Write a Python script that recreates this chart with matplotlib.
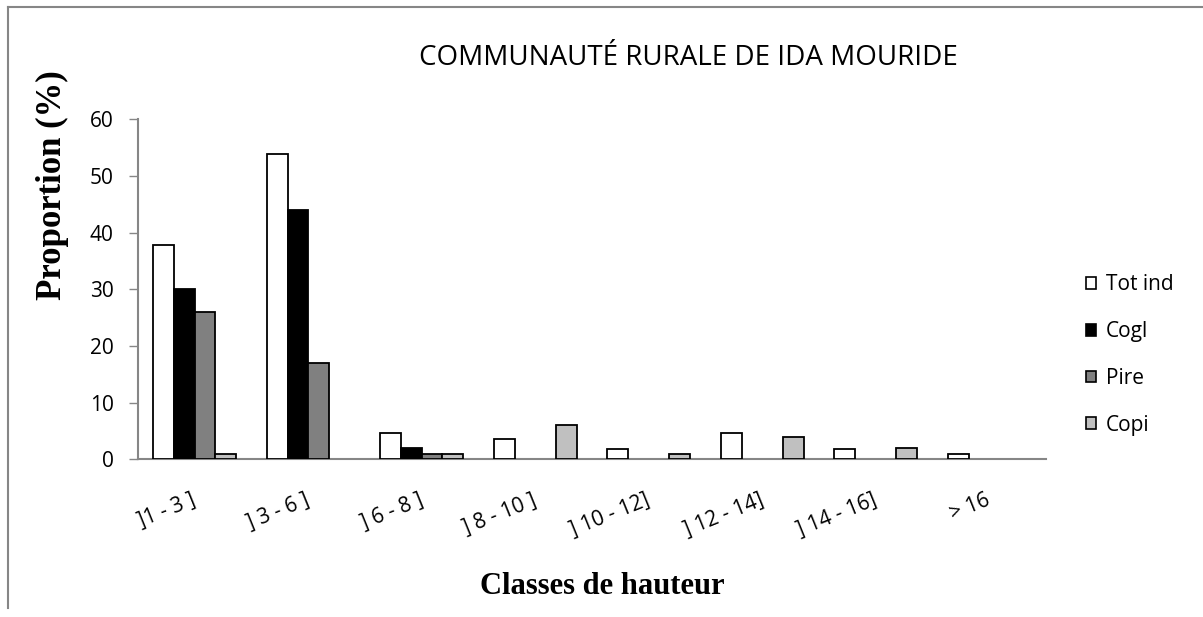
import numpy as np
import matplotlib
matplotlib.use("Agg")
import matplotlib.pyplot as plt
from matplotlib.lines import Line2D
from matplotlib.patches import Patch

# height classes and share of individuals (%) per species
classes = ["]1 - 3 ]", "] 3 - 6 ]", "] 6 - 8 ]", "] 8 - 10 ]",
           "] 10 - 12]", "] 12 - 14]", "] 14 - 16]", "> 16"]
tot_ind = [37.8, 53.8, 4.6, 3.6, 1.9, 4.6, 1.9, 0.9]
cogl = [30, 44, 2, 0, 0, 0, 0, 0]
pire = [26, 17, 1, 0, 0, 0, 0, 0]
copi = [1, 0, 1, 6, 1, 4, 2, 0]

series = [("Tot ind", tot_ind, "white"),
          ("Cogl", cogl, "black"),
          ("Pire", pire, "#808080"),
          ("Copi", copi, "#c0c0c0")]

SANS = "Open Sans"
SERIF = "Liberation Serif"
GREY = "#868686"

fig = plt.figure(figsize=(12.03, 6.17), dpi=100)
ax = fig.add_axes([0.1147, 0.2556, 0.7548, 0.551])

x = np.arange(len(classes))
w = 1 / 5.5
for i, (name, vals, col) in enumerate(series):
    bars = ax.bar(x - 1.5 * w + i * w, vals, width=w, color=col,
                  edgecolor="black", linewidth=1.3, label=name, zorder=3)
    for b in bars:
        if b.get_height() == 0:
            b.set_linewidth(0)

ax.set_xlim(-0.5, len(classes) - 0.5)
ax.set_ylim(0, 60)
ax.set_yticks(range(0, 61, 10))
ax.tick_params(axis="y", length=6.5, width=1, color=GREY, labelsize=15, pad=11)
ax.tick_params(axis="x", length=0)
for lab in ax.get_yticklabels():
    lab.set_fontfamily(SANS)

ax.set_xticks(x)
ax.set_xticklabels([])
for xi, txt in zip(x, classes):
    ax.annotate(txt, xy=(xi, 0), xycoords=("data", "axes fraction"),
                xytext=(3, -36), textcoords="offset points",
                ha="right", va="bottom", rotation=22, rotation_mode="anchor",
                fontsize=15, family=SANS)

for s in ["top", "right"]:
    ax.spines[s].set_visible(False)
for s in ["left", "bottom"]:
    ax.spines[s].set_color(GREY)
    ax.spines[s].set_linewidth(1.5)

fig.text(688 / 1203, 1 - 58 / 617, "COMMUNAUTÉ RURALE DE IDA MOURIDE",
         ha="center", va="center", fontsize=20, family=SANS)
fig.text(52 / 1203, 1 - 185 / 617, "Proportion (%)", rotation=90,
         ha="center", va="center", fontsize=25, fontweight="bold", family=SERIF)
fig.text(602 / 1203, 1 - 587 / 617, "Classes de hauteur",
         ha="center", va="center", fontsize=22, fontweight="bold", family=SERIF)

handles = [Patch(facecolor=c, edgecolor="black", linewidth=1.2, label=n)
           for n, _, c in series]
fig.legend(handles=handles, loc="center left",
           bbox_to_anchor=(1067 / 1203, 1 - 355 / 617), frameon=False,
           prop={"family": SANS, "size": 15}, handlelength=0.5,
           handleheight=0.5, handletextpad=0.45, labelspacing=1.24)

# chart frame
fig.add_artist(Line2D([8 / 1203, 8 / 1203], [1 - 7 / 617, 1 - 608 / 617],
                      transform=fig.transFigure, color=GREY, lw=1.5))
fig.add_artist(Line2D([8 / 1203, 1], [1 - 7 / 617, 1 - 7 / 617],
                      transform=fig.transFigure, color=GREY, lw=1.5))

fig.savefig("out.png", dpi=100)
